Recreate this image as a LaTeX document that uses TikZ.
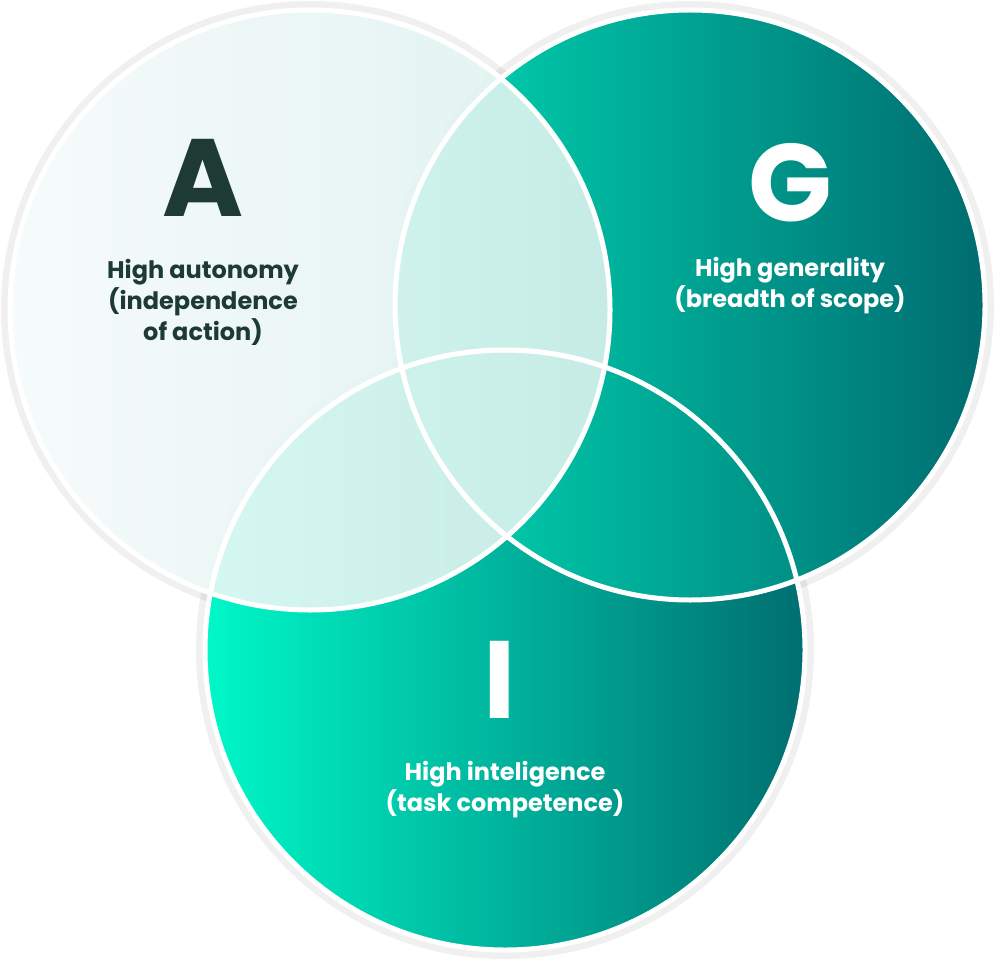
\documentclass[tikz,border=0pt]{standalone}
\usepackage{fontspec}
\setmainfont{Poppins}
\definecolor{iL}{RGB}{0,248,200}
\definecolor{iR}{RGB}{0,110,112}
\definecolor{gL}{RGB}{0,218,180}
\definecolor{gR}{RGB}{0,108,112}
\definecolor{aL}{RGB}{246,251,251}
\definecolor{aR}{RGB}{220,242,238}
\definecolor{dk}{RGB}{30,58,52}
\begin{document}
\begin{tikzpicture}[x=1pt,y=-1pt,
  ring/.style={draw=white,line width=5pt},
  shadowring/.style={draw=black,line width=10pt,draw opacity=0.06},
  lbl/.style={font=\fontsize{24}{31}\selectfont\bfseries,align=center},
  big/.style={font=\fontsize{110}{110}\selectfont\bfseries}]
\useasboundingbox (0,0) rectangle (1000,968);
\fill[white] (0,0) rectangle (1000,968);
\draw[shadowring] (310,310) circle (304);
\draw[shadowring] (690,305) circle (299);
\draw[shadowring] (505,650) circle (304);
% I circle
\shade[left color=iL,right color=iR] (505,650) circle (300);
\draw[ring] (505,650) circle (300);
% G circle
\shade[left color=gL,right color=gR] (690,305) circle (295);
\draw[ring] (690,305) circle (295);
\begin{scope}
\clip (690,305) circle (295);
\draw[ring] (505,650) circle (300);
\end{scope}
% A circle
\shade[left color=aL,right color=aR,fill opacity=0.9] (310,310) circle (300);
\draw[ring] (310,310) circle (300);
\begin{scope}
\clip (310,310) circle (300);
\draw[ring] (690,305) circle (295);
\draw[ring] (505,650) circle (300);
\end{scope}
% texts
\node[big,text=dk] (la) at (203,178) {A};
\node[lbl,text=dk] (ta) at (203,302) {High autonomy\\(independence\\of action)};
\node[big,text=white] (lg) at (790,183) {G};
\node[lbl,text=white] (tg) at (790,286) {High generality\\(breadth of scope)};
\node[big,text=white] (li) at (500,680) {I};
\node[lbl,text=white] (ti) at (505,790) {High inteligence\\(task competence)};
\end{tikzpicture}
\end{document}
